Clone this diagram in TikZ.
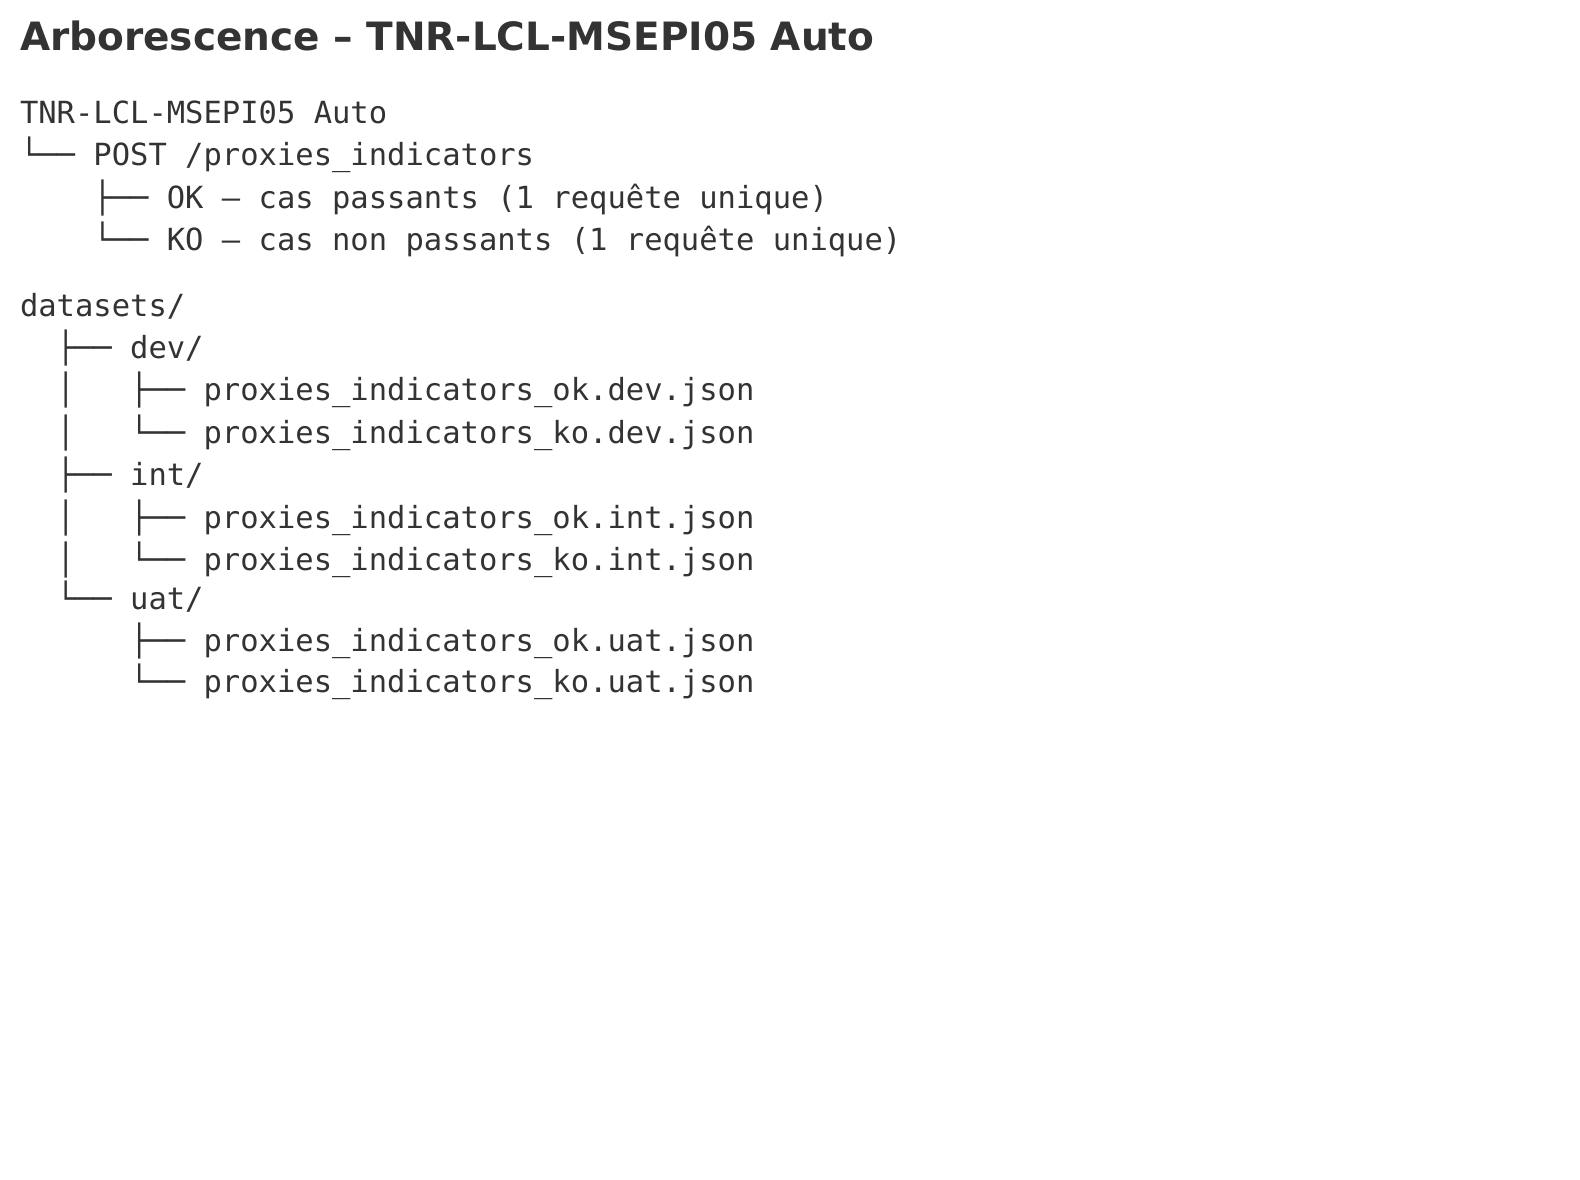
\documentclass[tikz,border=0pt]{standalone}
\usepackage{fontspec}
\setmonofont{DejaVu Sans Mono}
\newfontfamily\titlefont{DejaVu Sans}
\definecolor{ink}{HTML}{333333}
\begin{document}
\begin{tikzpicture}[x=1pt,y=-1pt,
  every node/.style={inner sep=0pt,outer sep=0pt,anchor=base west,text=ink},
  ttl/.style={font=\titlefont\fontsize{39}{46}\selectfont\bfseries},
  mono/.style={font=\ttfamily\fontsize{30.5}{36}\selectfont}]
\useasboundingbox[fill=white] (0,0) rectangle (1580,1180);
\def\adv{18.36}
\node[ttl] (title) at (20,50.5) {Arborescence – TNR-LCL-MSEPI05 Auto};
% first tree
\node[mono] (root) at (20,124) {TNR-LCL-MSEPI05 Auto};
\node[mono] (post) at (20,166) {└── POST /proxies\_indicators};
\node[mono] (ok) at ({20+4*\adv},208) {├── OK – cas passants (1 requête unique)};
\node[mono] (ko) at ({20+4*\adv},250) {└── KO – cas non passants (1 requête unique)};
% datasets tree
\node[mono] (ds) at (20,316) {datasets/};
\node[mono] (dev) at ({20+2*\adv},358) {├── dev/};
\node[mono] (bar1) at ({20+2*\adv},400) {│};
\node[mono] (devok) at ({20+6*\adv},400) {├── proxies\_indicators\_ok.dev.json};
\node[mono] (bar2) at ({20+2*\adv},443) {│};
\node[mono] (devko) at ({20+6*\adv},443) {└── proxies\_indicators\_ko.dev.json};
\node[mono] (int) at ({20+2*\adv},485) {├── int/};
\node[mono] (bar3) at ({20+2*\adv},528) {│};
\node[mono] (intok) at ({20+6*\adv},528) {├── proxies\_indicators\_ok.int.json};
\node[mono] (bar4) at ({20+2*\adv},570) {│};
\node[mono] (intko) at ({20+6*\adv},570) {└── proxies\_indicators\_ko.int.json};
\node[mono] (uat) at ({20+2*\adv},609) {└── uat/};
\node[mono] (uatok) at ({20+6*\adv},651) {├── proxies\_indicators\_ok.uat.json};
\node[mono] (uatko) at ({20+6*\adv},692) {└── proxies\_indicators\_ko.uat.json};
\end{tikzpicture}
\end{document}
